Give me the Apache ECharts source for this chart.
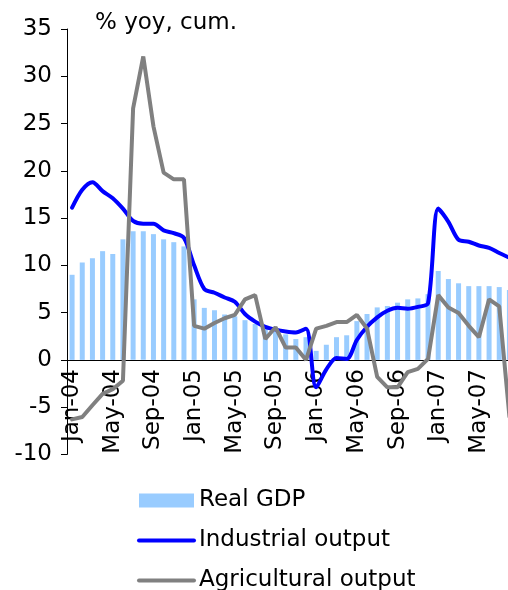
<!DOCTYPE html>
<html>
<head>
<meta charset="utf-8">
<title>Real GDP, industrial and agricultural output</title>
<script src="https://cdn.jsdelivr.net/npm/echarts@6.0.0/dist/echarts.min.js"></script>
<style>
  html, body { margin: 0; padding: 0; background: #fff; }
  #chart { width: 508px; height: 590px; }
</style>
</head>
<body>
<div id="chart"></div>
<script>
// monthly, % yoy cumulative
var months = [
  'Jan-04', 'Feb-04', 'Mar-04', 'Apr-04', 'May-04', 'Jun-04', 'Jul-04', 'Aug-04', 'Sep-04', 'Oct-04', 'Nov-04', 'Dec-04',
  'Jan-05', 'Feb-05', 'Mar-05', 'Apr-05', 'May-05', 'Jun-05', 'Jul-05', 'Aug-05', 'Sep-05', 'Oct-05', 'Nov-05', 'Dec-05',
  'Jan-06', 'Feb-06', 'Mar-06', 'Apr-06', 'May-06', 'Jun-06', 'Jul-06', 'Aug-06', 'Sep-06', 'Oct-06', 'Nov-06', 'Dec-06',
  'Jan-07', 'Feb-07', 'Mar-07', 'Apr-07', 'May-07', 'Jun-07', 'Jul-07', 'Aug-07'
];
var realGdp = [
  9.0, 10.3, 10.75, 11.5, 11.2, 12.75, 13.6, 13.6, 13.3, 12.75, 12.45, 12.0,
  6.4, 5.5, 5.25, 4.8, 4.6, 4.2, 3.8, 3.3, 3.0, 2.7, 2.2, 2.4,
  0.95, 1.6, 2.4, 2.6, 4.1, 4.85, 5.55, 5.7, 6.05, 6.4, 6.5, 6.95,
  9.4, 8.55, 8.1, 7.8, 7.8, 7.8, 7.7, 7.4
];
var industrialOutput = [
  16.1, 18.0, 18.8, 17.85, 17.1, 16.0, 14.7, 14.4, 14.4, 13.7, 13.4, 12.9,
  10.0, 7.5, 7.1, 6.6, 6.15, 4.85, 4.05, 3.5, 3.2, 3.0, 2.9, 3.3,
  -2.9, -1.0, 0.2, 0.1, 2.1, 3.5, 4.5, 5.2, 5.5, 5.4, 5.6, 6.0,
  16.0, 14.6, 12.7, 12.5, 12.1, 11.85, 11.3, 10.8
];
var agriculturalOutput = [
  -6.3, -6.05, -4.8, -3.6, -3.1, -2.2, 26.6, 32.1, 24.7, 19.8, 19.1, 19.1,
  3.6, 3.3, 3.9, 4.4, 4.75, 6.4, 6.85, 2.2, 3.45, 1.3, 1.3, 0.0,
  3.3, 3.6, 4.0, 4.0, 4.75, 3.3, -1.8, -2.9, -2.9, -1.3, -0.95, 0.1,
  6.85, 5.55, 4.95, 3.6, 2.4, 6.4, 5.65, -6.0
];

var font = 'DejaVu Sans, Verdana, sans-serif';
var chart = echarts.init(document.getElementById('chart'));
chart.setOption({
  animation: false,
  title: {
    text: '% yoy, cum.',
    left: 90,
    top: 7,
    textStyle: { fontFamily: font, fontSize: 23, fontWeight: 'normal', color: '#000' }
  },
  legend: {
    orient: 'vertical',
    left: 137,
    top: 489,
    height: 140,
    padding: 0,
    itemWidth: 55,
    itemHeight: 14,
    itemGap: 17,
    textStyle: { fontFamily: font, fontSize: 23, color: '#000' },
    data: [
      { name: 'Real GDP', icon: 'rect' },
      { name: 'Industrial output', itemStyle: { opacity: 0 }, lineStyle: { width: 4 } },
      { name: 'Agricultural output', itemStyle: { opacity: 0 }, lineStyle: { width: 4 } }
    ]
  },
  // the plot runs a little past the right edge of the picture
  grid: { left: 67, top: 29, width: 447.5, bottom: 135.6, outerBoundsMode: 'none' },
  xAxis: {
    type: 'category',
    data: months,
    // axis sits on the zero line (94.4px above the grid bottom)
    offset: -94.4,
    axisLine: { onZero: false, lineStyle: { color: '#000', width: 1 } },
    axisTick: { interval: 0, length: 6, lineStyle: { color: '#000' } },
    axisLabel: { interval: 3, rotate: 90, margin: 9, fontFamily: font, fontSize: 23, color: '#000' }
  },
  yAxis: {
    type: 'value',
    min: -10,
    max: 35,
    interval: 5,
    axisLine: { show: true, lineStyle: { color: '#000', width: 1 } },
    axisTick: { show: true, length: 6, lineStyle: { color: '#000' } },
    splitLine: { show: false },
    axisLabel: { margin: 15, fontFamily: font, fontSize: 23, color: '#000' }
  },
  series: [
    {
      name: 'Real GDP',
      type: 'bar',
      data: realGdp,
      barWidth: 5,
      itemStyle: { color: '#99ccff' }
    },
    {
      name: 'Industrial output',
      type: 'line',
      data: industrialOutput,
      symbol: 'none',
      smooth: 0.3,
      lineStyle: { color: '#0000ff', width: 4, cap: 'round' },
      itemStyle: { color: '#0000ff' }
    },
    {
      name: 'Agricultural output',
      type: 'line',
      data: agriculturalOutput,
      symbol: 'none',
      lineStyle: { color: '#808080', width: 4, cap: 'round' },
      itemStyle: { color: '#808080' }
    }
  ]
});
</script>
</body>
</html>
